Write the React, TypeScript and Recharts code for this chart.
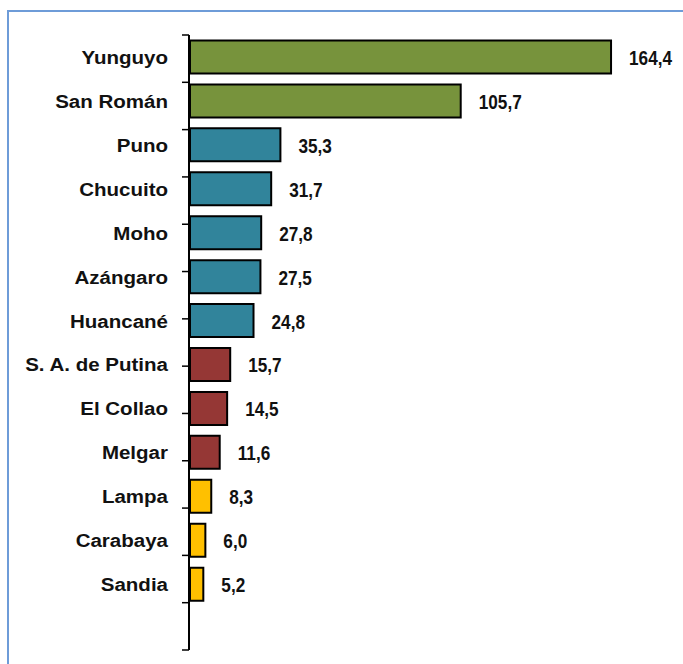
import React from "react";
import { BarChart, Bar, XAxis, YAxis, Cell, LabelList } from "recharts";

const categories = [
  "Yunguyo",
  "San Román",
  "Puno",
  "Chucuito",
  "Moho",
  "Azángaro",
  "Huancané",
  "S. A. de Putina",
  "El Collao",
  "Melgar",
  "Lampa",
  "Carabaya",
  "Sandia",
  "",
];
const values: (number | null)[] = [164.4, 105.7, 35.3, 31.7, 27.8, 27.5, 24.8, 15.7, 14.5, 11.6, 8.3, 6.0, 5.2, null];
const groups = [0, 0, 1, 1, 1, 1, 1, 2, 2, 2, 3, 3, 3, 3];
const groupColors = ["#77933C", "#31849B", "#953735", "#FFC000"];
const boundaryTicks = [0, 1, 2, 3, 4, 5, 6, 7, 8, 9, 10, 11, 12, 13, 14];

const data = categories.map((c, i) => ({ name: c, value: values[i], group: groups[i] }));

const fmt = (v: number) => v.toFixed(1).replace(".", ",");

const ValueLabel = (props: any) => {
  const { x, y, width, height, value } = props;
  if (value == null) return null;
  const tx = Number(x) + Number(width) + 18;
  const ty = Number(y) + Number(height) / 2 + 8;
  return (
    <text
      transform={`translate(${tx},${ty}) scale(0.86,1)`}
      x={0}
      y={0}
      textAnchor="start"
      fontFamily="'Liberation Sans', Arial, sans-serif"
      fontWeight="bold"
      fontSize={20}
      fill="#111"
    >
      {fmt(Number(value))}
    </text>
  );
};

const CatTick = (props: any) => {
  const { x, y, payload } = props;
  return (
    <text
      transform={`translate(${x},${y + 7}) scale(1.08,1)`}
      x={0}
      y={0}
      textAnchor="end"
      fontFamily="'Liberation Sans', Arial, sans-serif"
      fontWeight="bold"
      fontSize={19}
      fill="#111"
    >
      {payload.value}
    </text>
  );
};

export default function App() {
  return (
    <div style={{ position: "absolute", left: 0, top: 0, width: 683, height: 664, background: "#fff" }}>
      <div
        style={{
          position: "absolute",
          left: 7,
          top: 10,
          width: 700,
          height: 700,
          borderTop: "2px solid #6E9CD8",
          borderLeft: "2px solid #6E9CD8",
        }}
      />
      <div style={{ position: "absolute", left: 0, top: 0 }}>
        <BarChart
          width={683}
          height={664}
          data={data}
          layout="vertical"
          margin={{ top: 35, right: 32, bottom: 14, left: 188 }}
          barCategoryGap="12.5%"
        >
          <XAxis type="number" domain={[0, 180]} hide />
          <YAxis
            type="category"
            dataKey="name"
            width={1}
            tickLine={false}
            axisLine={false}
            tickSize={0}
            tickMargin={22}
            interval={0}
            tick={<CatTick />}
          />
          <YAxis
            yAxisId="ticks"
            type="number"
            domain={[0, 14]}
            ticks={boundaryTicks}
            reversed
            width={1}
            tickSize={7}
            tickLine={{ stroke: "#000", strokeWidth: 1.5 }}
            axisLine={{ stroke: "#000", strokeWidth: 2 }}
            tick={() => <g />}
            interval={0}
            allowDataOverflow
          />
          <Bar dataKey="value" stroke="#000" strokeWidth={2} isAnimationActive={false}>
            {data.map((d, i) => (
              <Cell key={i} fill={groupColors[d.group]} />
            ))}
            <LabelList dataKey="value" content={<ValueLabel />} />
          </Bar>
        </BarChart>
      </div>
    </div>
  );
}
